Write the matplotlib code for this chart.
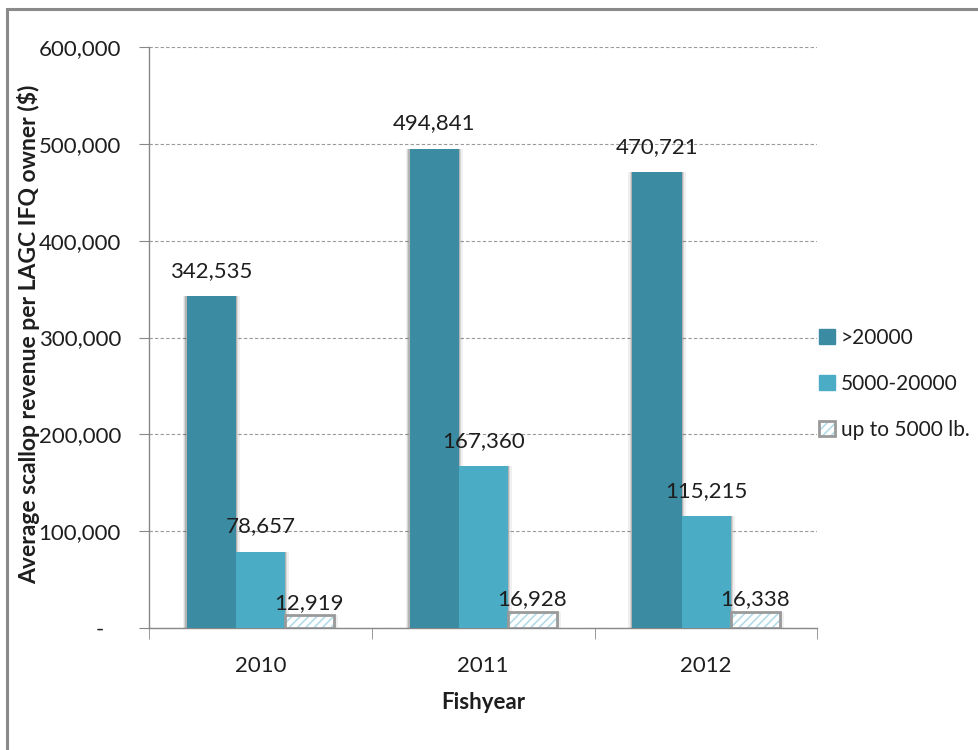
import numpy as np
import matplotlib.pyplot as plt
from matplotlib.patches import Rectangle, Patch
from matplotlib.ticker import FuncFormatter

plt.rcParams['font.family'] = ['Lato', 'DejaVu Sans']
plt.rcParams['hatch.linewidth'] = 1.2

years = ['2010', '2011', '2012']
groups = ['>20000', '5000-20000', 'up to 5000 lb.']
big = [342535, 494841, 470721]
mid = [78657, 167360, 115215]
small = [12919, 16928, 16338]

dark = '#3B8BA2'
aqua = '#4BACC6'
hatch_blue = '#b4dbe8'
edge_gray = '#9a9a9a'
txt = '#1e1e1e'
fs = 16

fig = plt.figure(figsize=(9.79, 7.5), dpi=100)
ax = fig.add_axes([0.152, 0.1627, 0.683, 0.7746])

# outer chart frame
fig.patches.append(Rectangle((7 / 979, -0.2), 1.2, 1.2 - 9 / 750,
                             transform=fig.transFigure, fill=False,
                             edgecolor='#8a8a8a', linewidth=2.2, zorder=0))

x = np.arange(len(years))
w = 0.22
offsets = [-w, 0, w]

def shadow(xpos, vals):
    # soft drop shadow behind a bar series
    for k, a in zip([0.018, 0.012, 0.006], [0.06, 0.1, 0.16]):
        ax.bar(xpos, vals, w + 2 * k, color='black', alpha=a, linewidth=0, zorder=1)

for off, vals in zip(offsets, [big, mid, small]):
    shadow(x + off, vals)

ax.bar(x + offsets[0], big, w, color=dark, linewidth=0, zorder=3)
ax.bar(x + offsets[1], mid, w, color=aqua, linewidth=0, zorder=3)
ax.bar(x + offsets[2], small, w, color='white', linewidth=0, zorder=3)
ax.bar(x + offsets[2], small, w, color='none', edgecolor=hatch_blue, hatch='////',
       linewidth=0, zorder=4)
ax.bar(x + offsets[2], small, w, color='none', edgecolor=edge_gray, linewidth=2, zorder=5)

for off, vals, pad in zip(offsets, [big, mid, small], [11, 11, 2]):
    for xi, v in zip(x + off, vals):
        ax.annotate(f'{v:,}', (xi, v), xytext=(0, pad), textcoords='offset points',
                    ha='center', va='bottom', fontsize=fs, color=txt, zorder=6)

ax.set_ylim(0, 600000)
ax.set_xlim(-0.5, 2.5)
ax.set_yticks(np.arange(0, 600001, 100000))
ax.yaxis.set_major_formatter(FuncFormatter(lambda v, p: f'{int(v):,}' if v else '-   '))
ax.set_xticks(x)
ax.set_xticklabels(years)
ax.set_xticks([-0.5, 0.5, 1.5, 2.5], minor=True)
ax.tick_params(axis='x', which='major', length=0, pad=20, labelsize=fs, labelcolor=txt)
ax.tick_params(axis='x', which='minor', length=8, color='#888888', direction='out')
ax.tick_params(axis='y', length=7, color='#888888', pad=13, labelsize=fs, labelcolor=txt)

ax.yaxis.grid(True, linestyle=(0, (3, 2)), color='#999999', linewidth=0.8, zorder=0)
ax.set_axisbelow(True)
for s in ['top', 'right']:
    ax.spines[s].set_visible(False)
for s in ['left', 'bottom']:
    ax.spines[s].set_color('#888888')
    ax.spines[s].set_linewidth(1)

ax.set_xlabel('Fishyear', fontsize=fs, fontweight='bold', color=txt, labelpad=12)
ax.set_ylabel('Average scallop revenue per LAGC IFQ owner ($)', fontsize=16.5,
              fontweight='bold', color=txt)
ax.yaxis.set_label_coords(-0.162, 0.505)

h3 = (Patch(facecolor='white', edgecolor=hatch_blue, hatch='////', linewidth=0),
      Patch(facecolor='none', edgecolor=edge_gray, linewidth=2))
leg = fig.legend([Patch(color=dark), Patch(color=aqua), h3], groups,
                 loc='center left', bbox_to_anchor=(0.826, 0.488), frameon=False,
                 fontsize=15, handlelength=0.75, handleheight=0.75,
                 handletextpad=0.3, labelspacing=1.25, borderpad=0)
for t in leg.get_texts():
    t.set_color(txt)

fig.savefig('out.png', dpi=100)
